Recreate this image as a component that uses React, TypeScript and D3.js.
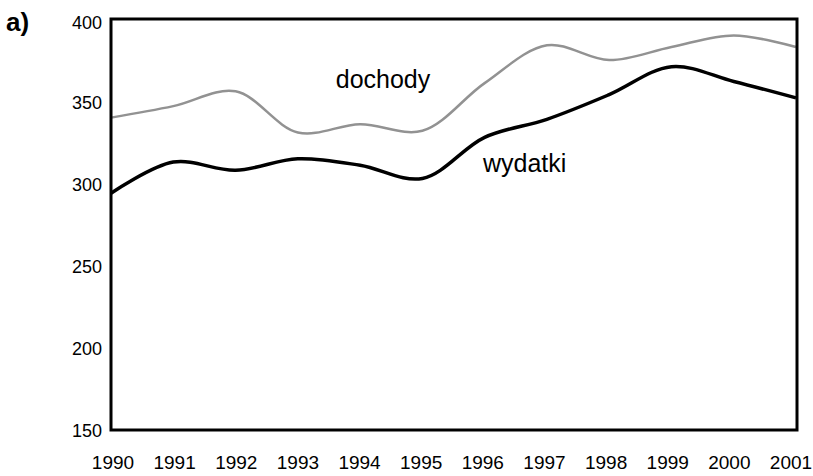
import React from 'react';
import * as d3 from 'd3';

// Values
const years = [1990, 1991, 1992, 1993, 1994, 1995, 1996, 1997, 1998, 1999, 2000, 2001];
const dochody = [340, 347, 356, 331, 336, 332, 361, 384, 375, 383, 390, 383];
const wydatki = [294, 313, 308, 315, 311, 303, 328, 339, 354, 371, 362, 352];
const yTicks = [150, 200, 250, 300, 350, 400];

const width = 813;
const height = 476;
const plot = { left: 111, right: 796, top: 19, bottom: 430 };

const App: React.FC = () => {
  const x = d3.scaleLinear().domain([1990, 2001]).range([plot.left, plot.right]);
  // year labels in the scan sit a little inside the frame ends
  const xLabel = d3.scaleLinear().domain([1990, 2001]).range([113, 791]);
  const y = d3.scaleLinear().domain([150, 400]).range([plot.bottom, plot.top]);

  const line = d3
    .line<number>()
    .x((_, i) => x(years[i]))
    .y((d) => y(d))
    .curve(d3.curveCatmullRom.alpha(0.5));

  const font = 'Liberation Sans, Arial, sans-serif';

  return (
    <svg
      width={width}
      height={height}
      style={{ position: 'absolute', left: 0, top: 0, background: '#fff' }}
      fontFamily={font}
    >
      {/* panel label */}
      <text x={6} y={31} fontSize={26} fontWeight="bold" fill="#000">a)</text>

      {/* series */}
      <path d={line(dochody) ?? ''} fill="none" stroke="#929292" strokeWidth={2.5} />
      <path d={line(wydatki) ?? ''} fill="none" stroke="#000" strokeWidth={3.5} />

      {/* frame */}
      <rect
        x={plot.left}
        y={plot.top}
        width={plot.right + 1 - plot.left}
        height={plot.bottom - plot.top}
        fill="none"
        stroke="#000"
        strokeWidth={3}
      />

      {/* y tick labels */}
      {yTicks.map((t) => (
        <text
          key={t}
          x={102}
          y={y(t) + (t === 400 ? 4 : 1)}
          dy="0.35em"
          textAnchor="end"
          fontSize={18}
          fill="#000"
        >
          {t}
        </text>
      ))}

      {/* x tick labels */}
      {years.map((yr) => (
        <text key={yr} x={xLabel(yr)} y={469} textAnchor="middle" fontSize={19} fill="#000">
          {yr}
        </text>
      ))}

      {/* series labels */}
      <text x={383} y={88} textAnchor="middle" fontSize={25} fill="#000">dochody</text>
      <text x={483} y={172} fontSize={25} fill="#000">wydatki</text>
    </svg>
  );
};

export default App;
